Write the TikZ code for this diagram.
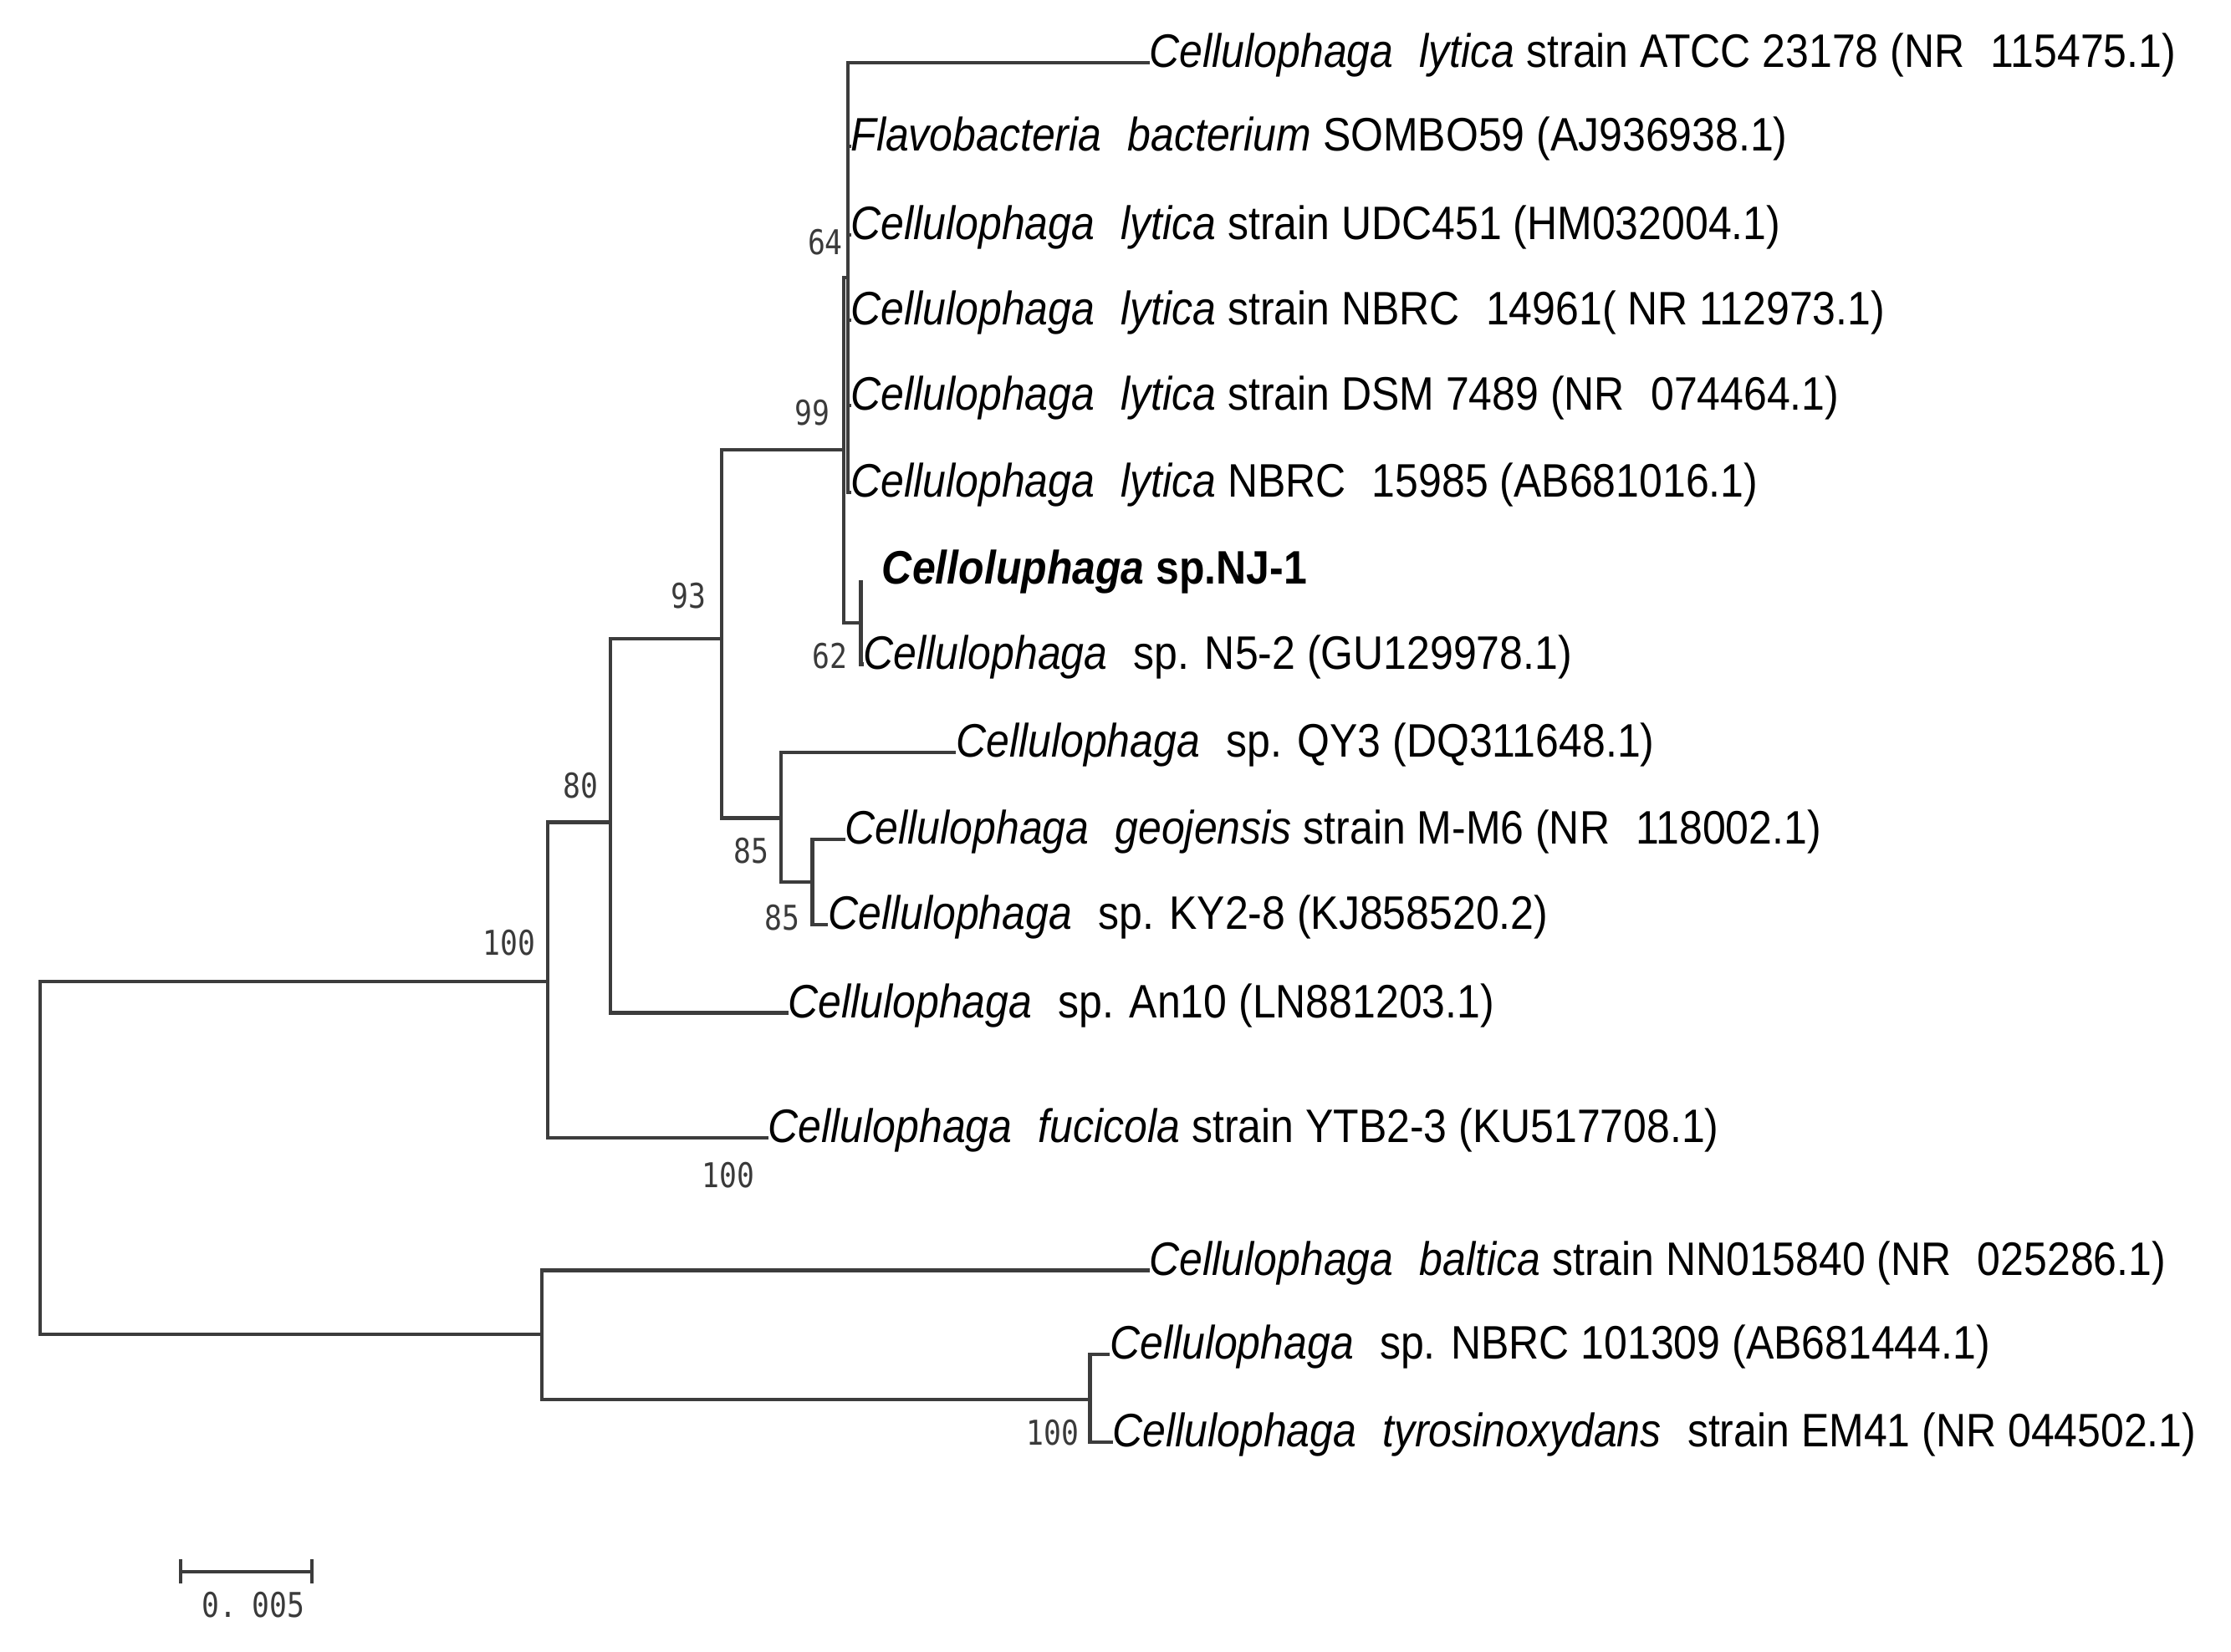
\documentclass[tikz,border=0pt]{standalone}
\usepackage{fontspec}
\setmainfont{Liberation Sans}[FakeStretch=0.89]
\newfontfamily\bsfont{DejaVu Sans Mono}[FakeStretch=0.85]
\definecolor{branch}{HTML}{3C3C3C}
\definecolor{bstxt}{HTML}{3A3A3A}
\newcommand{\gap}{\hspace{0.556em}}
\begin{document}
\begin{tikzpicture}[x=1pt,y=-1pt,
  br/.style={draw=branch,line width=2.5pt},
  leaf/.style={anchor=west,inner sep=0pt,outer sep=0pt,text height=0.654em,text depth=0pt,
    font=\fontsize{33}{38}\selectfont,text=black},
  bs/.style={inner sep=0pt,font=\bsfont\fontsize{24}{27}\selectfont,text=bstxt}]
\useasboundingbox (0,0) rectangle (1568,1161);
% internal nodes
\coordinate (nR) at (28,814);
\coordinate (nA) at (385,690);
\coordinate (nB) at (381,938);
\coordinate (nC) at (766,984);
\coordinate (nD) at (429,578);
\coordinate (nE) at (507,449);
\coordinate (nF) at (593,316);
\coordinate (n64) at (596,195);
\coordinate (n62) at (605,438);
\coordinate (nG) at (549,575);
\coordinate (nH) at (571,620);
\coordinate (tNJ) at (605,408);
% leaves
\node[leaf] (l1) at (808,44) {\textit{Cellulophaga}\gap\textit{lytica} strain ATCC 23178 (NR\gap115475.1)};
\node[leaf] (l2) at (598,103) {\textit{Flavobacteria}\gap\textit{bacterium} SOMBO59 (AJ936938.1)};
\node[leaf] (l3) at (598,165) {\textit{Cellulophaga}\gap\textit{lytica} strain UDC451 (HM032004.1)};
\node[leaf] (l4) at (598,225) {\textit{Cellulophaga}\gap\textit{lytica} strain NBRC\gap14961( NR 112973.1)};
\node[leaf] (l5) at (598,285) {\textit{Cellulophaga}\gap\textit{lytica} strain DSM 7489 (NR\gap074464.1)};
\node[leaf] (l6) at (598,346) {\textit{Cellulophaga}\gap\textit{lytica} NBRC\gap15985 (AB681016.1)};
\node[leaf] (l7) at (620,407) {\textbf{\textit{Celloluphaga} sp.NJ-1}};
\node[leaf] (l8) at (607,467) {\textit{Cellulophaga}\gap sp. N5-2 (GU129978.1)};
\node[leaf] (l9) at (672,529) {\textit{Cellulophaga}\gap sp. QY3 (DQ311648.1)};
\node[leaf] (l10) at (594,590) {\textit{Cellulophaga}\gap\textit{geojensis} strain M-M6 (NR\gap118002.1)};
\node[leaf] (l11) at (582,650) {\textit{Cellulophaga}\gap sp. KY2-8 (KJ858520.2)};
\node[leaf] (l12) at (554,712) {\textit{Cellulophaga}\gap sp. An10 (LN881203.1)};
\node[leaf] (l13) at (540,800) {\textit{Cellulophaga}\gap\textit{fucicola} strain YTB2-3 (KU517708.1)};
\node[leaf] (l14) at (808,893) {\textit{Cellulophaga}\gap\textit{baltica} strain NN015840 (NR\gap025286.1)};
\node[leaf] (l15) at (780,952) {\textit{Cellulophaga}\gap sp. NBRC 101309 (AB681444.1)};
\node[leaf] (l16) at (782,1014) {\textit{Cellulophaga}\gap\textit{tyrosinoxydans}\gap strain EM41 (NR 044502.1)};
% branches
\draw[br] (nR) |- (nA);
\draw[br] (nR) |- (nB);
\draw[br] (nB) |- (l14.west);
\draw[br] (nB) |- (nC);
\draw[br] (nC) |- (l15.west);
\draw[br] (nC) |- (l16.west);
\draw[br] (nA) |- (nD);
\draw[br] (nA) |- (l13.west);
\draw[br] (nD) |- (nE);
\draw[br] (nD) |- (l12.west);
\draw[br] (nE) |- (nF);
\draw[br] (nE) |- (nG);
\draw[br] (nG) |- (l9.west);
\draw[br] (nG) |- (nH);
\draw[br] (nH) |- (l10.west);
\draw[br] (nH) |- (l11.west);
\draw[br] (nF) |- (n64);
\draw[br] (nF) |- (n62);
\draw[br] (n64) |- (l1.west);
\draw[br] (n64) |- (l2.west);
\draw[br] (n64) |- (l3.west);
\draw[br] (n64) |- (l4.west);
\draw[br] (n64) |- (l5.west);
\draw[br] (n64) |- (l6.west);
\draw[br] (n62) |- (tNJ);
\draw[br] (n62) |- (l8.west);
% bootstrap values
\node[bs] (b1) at (358,663) {100};
\node[bs] (b2) at (408,552) {80};
\node[bs] (b3) at (484,419) {93};
\node[bs] (b4) at (571,290) {99};
\node[bs] (b5) at (580,170) {64};
\node[bs] (b6) at (583,461) {62};
\node[bs] (b7) at (528,598) {85};
\node[bs] (b8) at (550,645) {85};
\node[bs] (b9) at (512,826) {100};
\node[bs] (b10) at (740,1007) {100};
% scale bar
\coordinate (s1) at (127,1105);
\coordinate (s2) at (219,1105);
\draw[br] (s1) -- (s2);
\draw[br] ([yshift=-8]s1) -- ([yshift=9]s1);
\draw[br] ([yshift=-8]s2) -- ([yshift=9]s2);
\node[bs] (sl) at (178,1128) {0.\hspace{-0.25em} 005};
\end{tikzpicture}
\end{document}
